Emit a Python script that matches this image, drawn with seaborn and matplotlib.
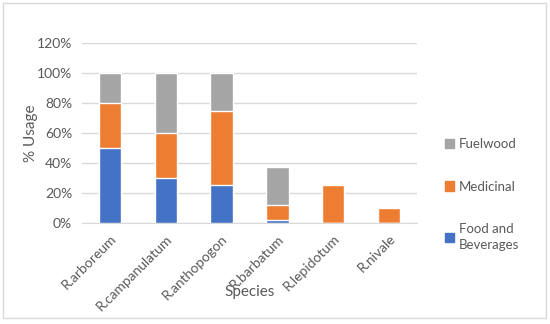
import matplotlib
matplotlib.use("Agg")
import matplotlib.pyplot as plt
from matplotlib.patches import Patch, Rectangle
import seaborn as sns
import pandas as pd

# Data (% usage per species)
species = ["R.arboreum", "R.campanulatum", "R.anthopogon",
           "R.barbatum", "R.lepidotum", "R.nivale"]
food = [50, 30, 25, 2, 0, 0]
medicinal = [30, 30, 50, 10, 25, 10]
fuelwood = [20, 40, 25, 25, 0, 0]

BLUE = "#4472C4"
ORANGE = "#ED7D31"
GRAY = "#A5A5A5"
TEXT = "#595959"

sns.set_style("white")
plt.rcParams["font.family"] = ["Lato", "DejaVu Sans"]

df = pd.DataFrame({"species": species, "food": food,
                   "medicinal": medicinal, "fuelwood": fuelwood})
df["food_med"] = df["food"] + df["medicinal"]
df["total"] = df["food_med"] + df["fuelwood"]

fig = plt.figure(figsize=(5.5, 3.24), dpi=100)
ax = fig.add_axes([0.149, 0.312, 0.609, 0.555])

# stacked bars drawn as cumulative layers
for col, color in [("total", GRAY), ("food_med", ORANGE), ("food", BLUE)]:
    sns.barplot(data=df, x="species", y=col, color=color, width=0.4,
                saturation=1, ax=ax, zorder=3)

ax.set_ylim(0, 120)
ax.set_yticks(range(0, 121, 20))
ax.set_yticklabels([f"{v}%" for v in range(0, 121, 20)])
ax.set_xlim(-0.5, len(species) - 0.5)
ax.yaxis.grid(True, color="#D9D9D9", linewidth=1, zorder=0)
for s in ["top", "right", "left"]:
    ax.spines[s].set_visible(False)
ax.spines["bottom"].set_color("#D9D9D9")
ax.tick_params(axis="both", length=0, labelsize=10, colors=TEXT, pad=7)
plt.setp(ax.get_xticklabels(), rotation=45, ha="right",
         rotation_mode="anchor")
ax.set_xlabel("Species", fontsize=11, color=TEXT)
ax.xaxis.set_label_coords(0.5, -0.345)
ax.set_ylabel("% Usage", fontsize=11, color=TEXT, labelpad=-1)

handles = [Patch(color=GRAY, label="Fuelwood"),
           Patch(color=ORANGE, label="Medicinal"),
           Patch(color=BLUE, label="Food and\nBeverages")]
leg = fig.legend(handles=handles, loc="upper left",
                 bbox_to_anchor=(0.787, 0.61), frameon=False,
                 fontsize=9.5, labelspacing=2.3, handlelength=0.7,
                 handleheight=0.7, handletextpad=0.4)
for t in leg.get_texts():
    t.set_color(TEXT)
    t.set_linespacing(1.45)

# chart border
fig.patches.append(Rectangle((0.006, 0.02), 0.987, 0.97,
                             transform=fig.transFigure, fill=False,
                             edgecolor="#D9D9D9", linewidth=1))

fig.savefig("out.png", dpi=100)
